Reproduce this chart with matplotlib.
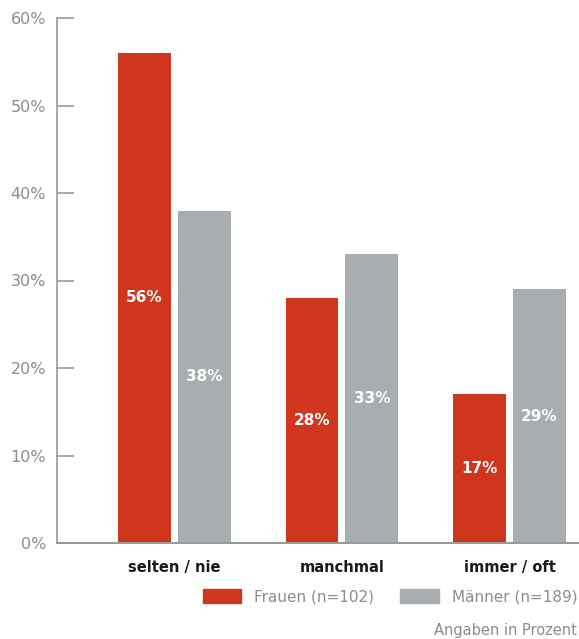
import matplotlib
matplotlib.use("Agg")
import matplotlib.pyplot as plt
import matplotlib.patches as mpatches
import numpy as np

# ── Data ──────────────────────────────────────────────────────────────────────
categories = ["selten / nie", "manchmal", "immer / oft"]
frauen = [56, 28, 17]
maenner = [38, 33, 29]
series_labels = ["Frauen (n=102)", "Männer (n=189)"]
yticks = [0, 10, 20, 30, 40, 50, 60]

RED = "#d0361e"
GREY = "#a8aeaf"
AXIS = "#9a9a9a"
TXT = "#8c8c8c"

plt.rcParams["font.family"] = ["DejaVu Sans"]

fig = plt.figure(figsize=(5.79, 6.39), dpi=100)
ax = fig.add_axes([57 / 579, 1 - 543 / 639, 1 - 57 / 579, (543 - 18) / 639])

x = np.arange(len(categories))
w = 0.316
off = 0.179
bars_f = ax.bar(x - off, frauen, width=w, color=RED)
bars_m = ax.bar(x + off, maenner, width=w, color=GREY)

for bars, vals in [(bars_f, frauen), (bars_m, maenner)]:
    for b, v in zip(bars, vals):
        ax.text(b.get_x() + b.get_width() / 2, v / 2, f"{v}%",
                ha="center", va="center", color="white",
                fontsize=11, fontweight="bold")

ax.set_xlim(-0.701, 2.415)
ax.set_ylim(0, 60)
ax.set_yticks(yticks)
ax.set_yticklabels([f"{t}%" for t in yticks], color=TXT, fontsize=11.5)
ax.tick_params(axis="y", direction="in", length=12, width=1.2, color=AXIS, pad=8)
ax.set_xticks(x)
ax.set_xticklabels(categories, fontsize=10.5, fontweight="bold", color="#1a1a1a")
ax.tick_params(axis="x", length=0, pad=12)

for s in ["top", "right"]:
    ax.spines[s].set_visible(False)
ax.spines["left"].set_color(AXIS)
ax.spines["bottom"].set_color(AXIS)
ax.spines["left"].set_linewidth(1.2)
ax.spines["bottom"].set_linewidth(1.5)

handles = [mpatches.Patch(color=RED, label=series_labels[0]),
           mpatches.Patch(color=GREY, label=series_labels[1])]
leg = fig.legend(handles=handles, loc="center right", ncol=2,
                 bbox_to_anchor=(1.022, 1 - 597 / 639), frameon=False,
                 fontsize=11, handlelength=2.5, handleheight=1.0,
                 columnspacing=1.7, handletextpad=0.9)
for t in leg.get_texts():
    t.set_color(TXT)

fig.text(577 / 579, 1 - 630 / 639, "Angaben in Prozent", ha="right", va="center",
         color=TXT, fontsize=10.5)

fig.savefig("out.png", dpi=100)
